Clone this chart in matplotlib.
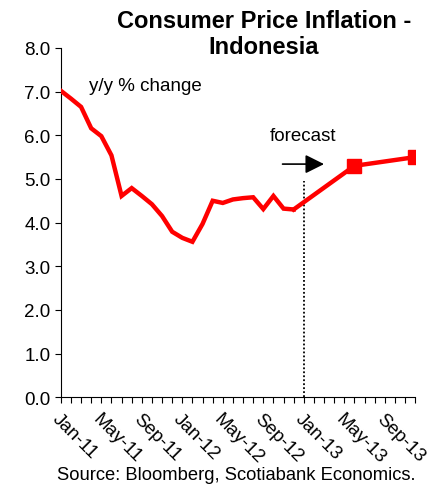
import matplotlib
matplotlib.use("Agg")
import matplotlib.pyplot as plt
from matplotlib.ticker import MultipleLocator, FixedLocator

plt.rcParams["font.family"] = ["Liberation Sans", "DejaVu Sans"]

# monthly y/y CPI, Jan-11 .. Dec-12
actual = [7.02, 6.84, 6.65, 6.16, 5.98, 5.54, 4.61, 4.79, 4.61, 4.42, 4.15, 3.79,
          3.65, 3.56, 3.97, 4.50, 4.45, 4.53, 4.56, 4.58, 4.31, 4.61, 4.32, 4.30]
# forecast path: Dec-12 (last actual), Jun-13, Dec-13
fc_month = [23, 29, 35]
fc_value = [4.30, 5.30, 5.50]
tick_labels = ["Jan-11", "May-11", "Sep-11", "Jan-12", "May-12", "Sep-12",
               "Jan-13", "May-13", "Sep-13"]
forecast_start = 24

fig = plt.figure(figsize=(4.44, 4.85), dpi=100)
ax = fig.add_axes([0.137, 0.179, 0.798, 0.720])

ax.plot(range(len(actual)), actual, color="#ff0000", lw=3.2, solid_joinstyle="miter", zorder=3)
ax.plot(fc_month, fc_value, color="#ff0000", lw=3.2, zorder=3)
ax.plot(fc_month[1:], fc_value[1:], "s", color="#ff0000", ms=10, zorder=4)

ax.plot([forecast_start, forecast_start], [0, 4.95], color="black", ls=(0, (1, 1.2)), lw=1.3, zorder=2)
ax.annotate("", xy=(26.0, 5.34), xytext=(21.9, 5.34),
            arrowprops=dict(arrowstyle="-|>,head_length=0.44,head_width=0.22", color="black",
                            lw=1.2, mutation_scale=26, shrinkA=0, shrinkB=0))
ax.text(23.9, 6.0, "forecast", ha="center", va="center", fontsize=13.5)
ax.text(2.8, 7.15, "y/y % change", ha="left", va="center", fontsize=13.5)

ax.set_xlim(0, 35)
ax.set_ylim(0, 8)
ax.yaxis.set_major_locator(MultipleLocator(1))
ax.set_yticklabels([f"{v:.1f}" for v in ax.get_yticks()])
ax.xaxis.set_major_locator(FixedLocator(range(0, 36, 4)))
ax.xaxis.set_minor_locator(MultipleLocator(1))
ax.set_xticklabels(tick_labels, rotation=-45, ha="left", va="top", rotation_mode="anchor")
ax.tick_params(axis="both", which="both", direction="out", length=4, width=0.8, labelsize=13.5)
ax.tick_params(axis="x", pad=5)
for side in ("top", "right"):
    ax.spines[side].set_visible(False)

fig.text(0.594, 0.979, "Consumer Price Inflation -\nIndonesia", ha="center", va="top",
         fontsize=17, fontweight="bold", linespacing=1.15)
fig.text(0.935, 0.003, "Source: Bloomberg, Scotiabank Economics.", ha="right", va="bottom",
         fontsize=13.2)

fig.savefig("out.png", dpi=100)
